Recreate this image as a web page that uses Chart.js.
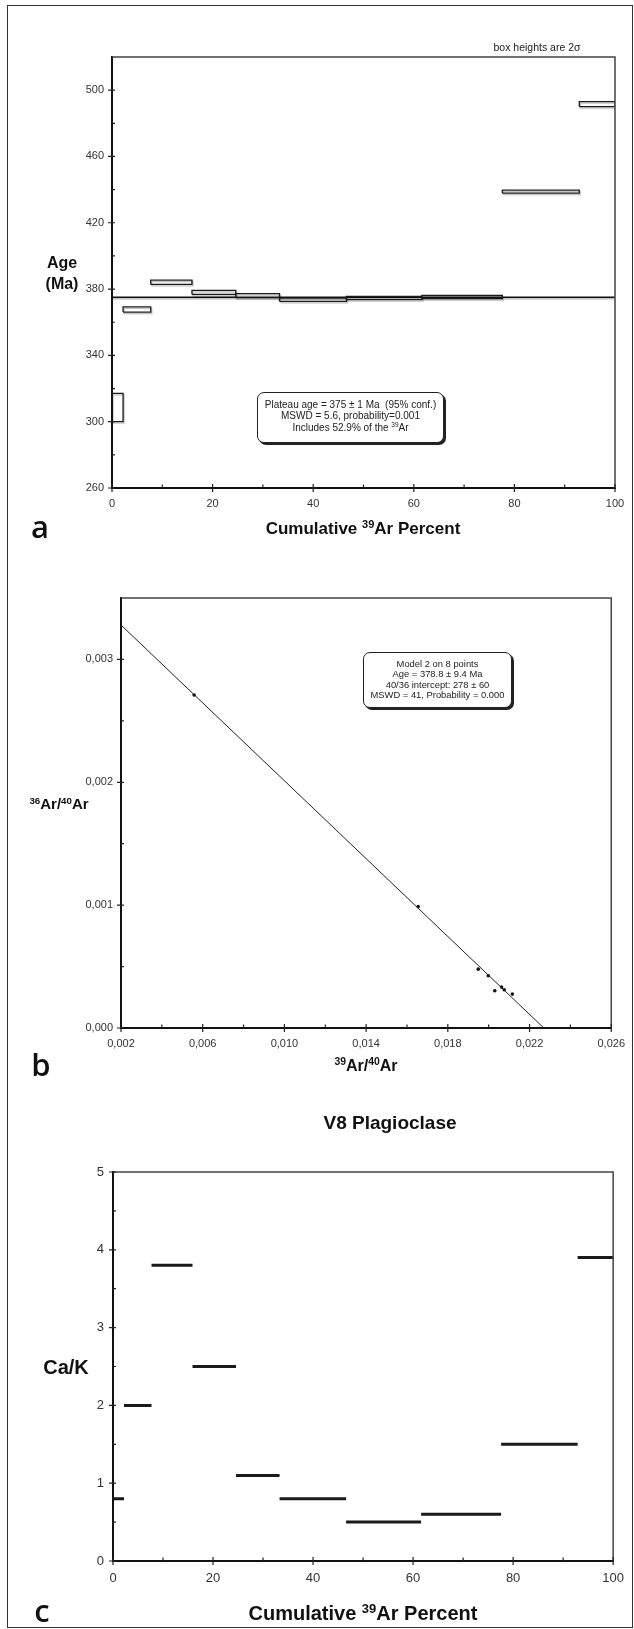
<!DOCTYPE html>
<html>
<head>
<meta charset="utf-8">
<script src="https://cdn.jsdelivr.net/npm/chart.js@4.4.1/dist/chart.umd.min.js"></script>
<style>
  html, body { margin: 0; padding: 0; background: #fff; }
  #page { position: relative; width: 634px; height: 1629px; overflow: hidden;
          font-family: "Liberation Sans", Arial, sans-serif; color: #111; }
  .frame { position: absolute; left: 7px; top: 5px; width: 626px; height: 1623px;
           border: 1.5px solid #333; box-sizing: border-box; }
  canvas { position: absolute; left: 0; }
  .t { position: absolute; white-space: nowrap; transform: translate(-50%, -50%); line-height: 1; }
  .b { font-weight: bold; }
  sup { font-size: 65%; vertical-align: 0; position: relative; top: -0.55em; }
  .panel { font-family: "Open Sans", sans-serif; font-weight: 600; font-size: 31px; }
  .note { position: absolute; box-sizing: border-box; border: 1px solid #222; border-radius: 7px;
          box-shadow: 2px 2px 0 #222; background: #fff; text-align: center; color: #222; }
</style>
</head>
<body>
<div id="page">
  <div class="frame"></div>
  <canvas id="ageSpectrum" width="634" height="560" style="top:0px"></canvas>
  <canvas id="isochron" width="634" height="540" style="top:560px"></canvas>
  <canvas id="caKSpectrum" width="634" height="529" style="top:1100px"></canvas>

  <!-- (a) age spectrum -->
  <div class="t" style="left:537px; top:47px; font-size:10.5px; color:#222;">box heights are 2σ</div>
  <div class="t b" style="left:62px; top:263px; font-size:16px;">Age</div>
  <div class="t b" style="left:62px; top:284px; font-size:16px;">(Ma)</div>
  <div class="note" style="left:257px; top:392px; width:187px; height:51px; font-size:10px; line-height:11.7px; padding-top:5.5px;">
    Plateau age = 375 ± 1 Ma&nbsp; (95% conf.)<br>
    MSWD = 5.6, probability=0.001<br>
    Includes 52.9% of the <sup>39</sup>Ar
  </div>
  <div class="t b" style="left:363px; top:528px; font-size:17px;">Cumulative <sup>39</sup>Ar Percent</div>
  <div class="t panel" style="left:40px; top:526px;">a</div>

  <!-- (b) inverse isochron -->
  <div class="note" style="left:363px; top:652px; width:149px; height:56px; font-size:9.4px; line-height:10.5px; padding-top:5.5px;">
    Model 2 on 8 points<br>
    Age = 378.8 ± 9.4 Ma<br>
    40/36 intercept: 278 ± 60<br>
    MSWD = 41, Probability = 0.000
  </div>
  <div class="t b" style="left:59px; top:803px; font-size:15px;"><sup>36</sup>Ar/<sup>40</sup>Ar</div>
  <div class="t b" style="left:366px; top:1066px; font-size:16px;"><sup>39</sup>Ar/<sup>40</sup>Ar</div>
  <div class="t panel" style="left:41px; top:1064px;">b</div>

  <!-- (c) Ca/K spectrum -->
  <div class="t b" style="left:390px; top:1122px; font-size:19px;">V8 Plagioclase</div>
  <div class="t b" style="left:66px; top:1367px; font-size:20px;">Ca/K</div>
  <div class="t b" style="left:363px; top:1613px; font-size:20px;">Cumulative <sup>39</sup>Ar Percent</div>
  <div class="t panel" style="left:42px; top:1610px;">c</div>
</div>

<script>
// Heating steps: cumulative 39Ar release edges (%), one more edge than steps
const stepEdges = [0, 2.2, 7.7, 15.9, 24.6, 33.3, 46.6, 61.6, 77.6, 92.9, 100];
// Apparent age of each step (Ma) and its 2-sigma half height
const stepAges = [308.6, 367.7, 384.1, 378.0, 376.0, 373.6, 374.6, 375.2, 438.8, 491.6];
const stepAgeErr = [8.5, 1.6, 1.3, 1.2, 1.2, 1.0, 1.0, 1.0, 0.9, 1.5];
const plateauAge = 375;
// Ca/K of each step
const stepCaK = [0.8, 2.0, 3.8, 2.5, 1.1, 0.8, 0.5, 0.6, 1.5, 3.9];

// Inverse isochron points
const ar39ar40 = [0.00558, 0.01655, 0.01949, 0.01998, 0.02030, 0.02063, 0.02076, 0.02116];
const ar36ar40 = [0.00271, 0.000988, 0.000479, 0.000425, 0.000303, 0.000333, 0.000311, 0.000276];
// Isochron line end points (x, y)
const isochronX = [0.002, 0.0227];
const isochronY = [0.00328, 0];

// Tick values
const pctTicks = [0, 20, 40, 60, 80, 100];
const pctMinorTicks = [10, 30, 50, 70, 90];
const ageTicks = [260, 300, 340, 380, 420, 460, 500];
const ageMinorTicks = [280, 320, 360, 400, 440, 480];
const ratioXTicks = [0.002, 0.006, 0.010, 0.014, 0.018, 0.022, 0.026];
const ratioXMinorTicks = [0.004, 0.008, 0.012, 0.016, 0.020, 0.024];
const ratioYTicks = [0, 0.001, 0.002, 0.003];
const ratioYMinorTicks = [0.0005, 0.0015, 0.0025];
const caKTicks = [0, 1, 2, 3, 4, 5];
const caKMinorTicks = [0.5, 1.5, 2.5, 3.5, 4.5];

const FONT = "'Liberation Sans', Arial, sans-serif";

// Tick marks crossing the axes plus the thin top/right frame of the plot box
function tickMarks(xMajor, xMinor, yMajor, yMinor) {
  return {
    id: 'tickMarks',
    afterDraw(chart) {
      const { ctx, chartArea: a, scales: { x, y } } = chart;
      ctx.save();
      ctx.strokeStyle = '#444';
      ctx.lineWidth = 1.5;
      ctx.beginPath();
      ctx.moveTo(a.left, a.top); ctx.lineTo(a.right, a.top); ctx.lineTo(a.right, a.bottom);
      ctx.stroke();
      ctx.strokeStyle = '#222';
      ctx.lineWidth = 1.2;
      ctx.beginPath();
      xMajor.forEach(v => { const p = x.getPixelForValue(v); ctx.moveTo(p, a.bottom - 4); ctx.lineTo(p, a.bottom + 4); });
      xMinor.forEach(v => { const p = x.getPixelForValue(v); ctx.moveTo(p, a.bottom - 3.5); ctx.lineTo(p, a.bottom); });
      yMajor.forEach(v => { const p = y.getPixelForValue(v); ctx.moveTo(a.left - 4, p); ctx.lineTo(a.left + 3, p); });
      yMinor.forEach(v => { const p = y.getPixelForValue(v); ctx.moveTo(a.left, p); ctx.lineTo(a.left + 3, p); });
      ctx.stroke();
      ctx.restore();
    }
  };
}

const boxShadow = {
  id: 'boxShadow',
  beforeDatasetsDraw(chart) {
    const c = chart.ctx;
    c.save();
    c.shadowColor = 'rgba(0,0,0,0.28)';
    c.shadowOffsetX = 1;
    c.shadowOffsetY = 1.5;
    c.shadowBlur = 1;
  },
  afterDatasetsDraw(chart) { chart.ctx.restore(); }
};

function linearAxis(min, max, ticks, fmt, fontSize, padding, fit, isX) {
  return {
    type: 'linear',
    position: isX ? 'bottom' : 'left',
    min, max,
    afterBuildTicks: s => { s.ticks = ticks.map(v => ({ value: v })); },
    afterFit: s => { if (isX) s.height = fit; else s.width = fit; },
    grid: { display: false, drawTicks: false },
    border: { display: true, width: 2, color: '#111' },
    ticks: {
      font: { family: FONT, size: fontSize },
      color: '#333',
      padding,
      autoSkip: false,
      maxRotation: 0,
      callback: fmt
    }
  };
}

const baseOptions = (padding, scales) => ({
  responsive: false,
  animation: false,
  devicePixelRatio: 1,
  layout: { padding },
  plugins: { legend: { display: false }, tooltip: { enabled: false } },
  scales
});

// (a) Age spectrum: one open box per heating step, plus the plateau age line
const ageDatasets = stepAges.map((age, i) => {
  const x0 = stepEdges[i], x1 = stepEdges[i + 1];
  const lo = age - stepAgeErr[i], hi = age + stepAgeErr[i];
  return {
    data: [{ x: x0, y: lo }, { x: x1, y: lo }, { x: x1, y: hi }, { x: x0, y: hi }, { x: x0, y: lo }],
    showLine: true, fill: false, tension: 0,
    borderColor: '#1a1a1a', borderWidth: 1.3, pointRadius: 0
  };
});
ageDatasets.push({
  data: [{ x: 0, y: plateauAge }, { x: 100, y: plateauAge }],
  showLine: true, fill: false, borderColor: '#111', borderWidth: 1.5, pointRadius: 0
});

new Chart(document.getElementById('ageSpectrum'), {
  type: 'scatter',
  data: { datasets: ageDatasets },
  options: baseOptions({ left: 0, top: 57, right: 19, bottom: 0 }, {
    x: linearAxis(0, 100, pctTicks, v => String(v), 11, 9, 72, true),
    y: linearAxis(260, 520, ageTicks, v => String(v), 11, 8, 112, false)
  }),
  plugins: [boxShadow, tickMarks(pctTicks, pctMinorTicks, ageTicks, ageMinorTicks)]
});

// (b) Inverse isochron
const comma = v => v.toFixed(3).replace('.', ',');
new Chart(document.getElementById('isochron'), {
  type: 'scatter',
  data: {
    datasets: [
      {
        data: isochronX.map((x, i) => ({ x, y: isochronY[i] })),
        showLine: true, fill: false, borderColor: '#222', borderWidth: 1, pointRadius: 0
      },
      {
        data: ar39ar40.map((x, i) => ({ x, y: ar36ar40[i] })),
        showLine: false, pointRadius: 1.8, pointBackgroundColor: '#111', pointBorderWidth: 0
      }
    ]
  },
  options: baseOptions({ left: 0, top: 38, right: 19, bottom: 0 }, {
    x: linearAxis(0.002, 0.026, ratioXTicks, comma, 11, 9, 72, true),
    y: linearAxis(0, 0.0035, ratioYTicks, comma, 11, 8, 121, false)
  }),
  plugins: [tickMarks(ratioXTicks, ratioXMinorTicks, ratioYTicks, ratioYMinorTicks)]
});

// (c) Ca/K spectrum: one heavy bar per heating step
const caKDatasets = stepCaK.map((v, i) => ({
  data: [{ x: stepEdges[i], y: v }, { x: stepEdges[i + 1], y: v }],
  showLine: true, fill: false, borderColor: '#1a1a1a', borderWidth: 3, pointRadius: 0,
  borderCapStyle: 'butt'
}));

new Chart(document.getElementById('caKSpectrum'), {
  type: 'scatter',
  data: { datasets: caKDatasets },
  options: baseOptions({ left: 0, top: 72, right: 19, bottom: 0 }, {
    x: linearAxis(0, 100, pctTicks, v => String(v), 13, 10, 68, true),
    y: linearAxis(0, 5, caKTicks, v => String(v), 13, 9, 113, false)
  }),
  plugins: [tickMarks(pctTicks, pctMinorTicks, caKTicks, caKMinorTicks)]
});
</script>
</body>
</html>
